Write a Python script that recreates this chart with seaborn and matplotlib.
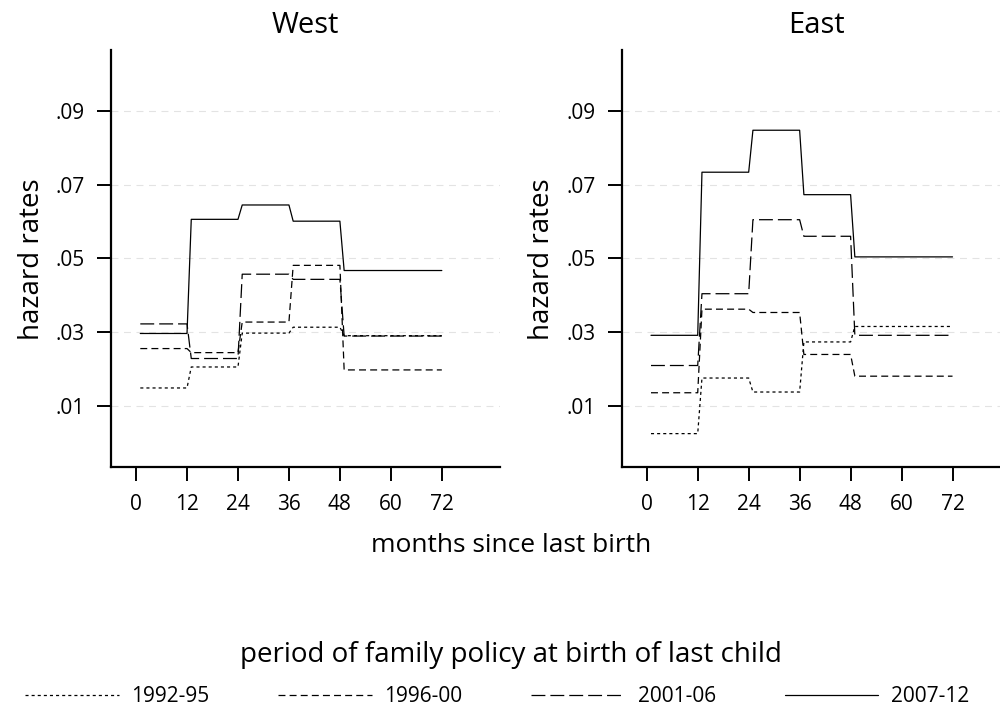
import matplotlib
matplotlib.use("Agg")
import matplotlib.pyplot as plt
import seaborn as sns
import pandas as pd
from matplotlib.lines import Line2D

# ---- data ----
periods = ["1992-95", "1996-00", "2001-06", "2007-12"]
seg_start = [1, 13, 25, 37, 49]      # first month of each interval
seg_end = [12, 24, 36, 48, 72]       # last month of each interval

west_1992_95 = [0.0148, 0.0205, 0.0297, 0.0313, 0.0290]
west_1996_00 = [0.0255, 0.0244, 0.0327, 0.0481, 0.0197]
west_2001_06 = [0.0322, 0.0228, 0.0457, 0.0443, 0.0289]
west_2007_12 = [0.0296, 0.0606, 0.0645, 0.0601, 0.0467]

east_1992_95 = [0.0024, 0.0175, 0.0137, 0.0273, 0.0315]
east_1996_00 = [0.0135, 0.0362, 0.0353, 0.0239, 0.0180]
east_2001_06 = [0.0209, 0.0404, 0.0605, 0.0560, 0.0291]
east_2007_12 = [0.0291, 0.0734, 0.0848, 0.0673, 0.0504]

x_ticks = [0, 12, 24, 36, 48, 60, 72]
y_ticks = [0.01, 0.03, 0.05, 0.07, 0.09]
y_tick_labels = [".01", ".03", ".05", ".07", ".09"]

regions = {
    "West": [west_1992_95, west_1996_00, west_2001_06, west_2007_12],
    "East": [east_1992_95, east_1996_00, east_2001_06, east_2007_12],
}

rows = []
for reg, series in regions.items():
    for per, vals in zip(periods, series):
        for s, e, v in zip(seg_start, seg_end, vals):
            rows.append((reg, per, s, v))
            rows.append((reg, per, e, v))
df = pd.DataFrame(rows, columns=["region", "period", "month", "rate"])

# ---- style ----
sns.set_theme(style="white")
plt.rcParams["font.family"] = ["Open Sans", "DejaVu Sans"]
plt.rcParams["lines.scale_dashes"] = False
for k in ["text.color", "axes.labelcolor", "xtick.color", "ytick.color"]:
    plt.rcParams[k] = "black"

dash_map = {"1992-95": (2.2, 2.2), "1996-00": (5, 3), "2001-06": (10, 3.6), "2007-12": ""}

fig = plt.figure(figsize=(10, 7.2), dpi=100)
fig.patch.set_facecolor("white")
axW = fig.add_axes([0.111, 0.3507, 0.389, 0.5799])
axE = fig.add_axes([0.6217, 0.3507, 0.389, 0.5799])

for ax, reg in [(axW, "West"), (axE, "East")]:
    sns.lineplot(data=df[df.region == reg], x="month", y="rate", style="period",
                 style_order=periods, dashes=dash_map, color="black", lw=0.9,
                 estimator=None, legend=False, ax=ax)
    ax.set_xlim(-5.9, 85.7)
    ax.set_ylim(-0.0068, 0.1066)
    ax.set_xticks(x_ticks)
    ax.set_xticklabels([str(t) for t in x_ticks])
    ax.set_yticks(y_ticks)
    ax.set_yticklabels(y_tick_labels)
    ax.grid(axis="y", color="#e3e3e3", ls=(0, (5, 4)), lw=0.8)
    ax.grid(axis="x", visible=False)
    ax.set_axisbelow(True)
    for sp in ["top", "right"]:
        ax.spines[sp].set_visible(False)
    for sp in ["left", "bottom"]:
        ax.spines[sp].set_linewidth(1.6)
        ax.spines[sp].set_color("black")
    ax.tick_params(axis="both", direction="out", length=10, width=1.4,
                   pad=9, labelsize=15, colors="black", left=True, bottom=True)
    ax.set_xlabel("")
    ax.set_ylabel("hazard rates", fontsize=20, labelpad=7)
    ax.set_title(reg, fontsize=21, pad=12)

fig.text(0.511, 1 - 545 / 720, "months since last birth", ha="center",
         va="center", fontsize=19)
fig.text(0.511, 1 - 655 / 720, "period of family policy at birth of last child",
         ha="center", va="center", fontsize=20)

handles = []
for per in periods:
    d = dash_map[per]
    if d == "":
        handles.append(Line2D([], [], color="black", lw=0.9, ls="-"))
    else:
        handles.append(Line2D([], [], color="black", lw=0.9, dashes=d))
fig.legend(handles, periods, loc="center", bbox_to_anchor=(0.497, 1 - 697 / 720),
           ncol=4, frameon=False, fontsize=15, handlelength=4.5,
           handletextpad=0.6, columnspacing=3.3)

fig.savefig("out.png", dpi=100, facecolor="white")
